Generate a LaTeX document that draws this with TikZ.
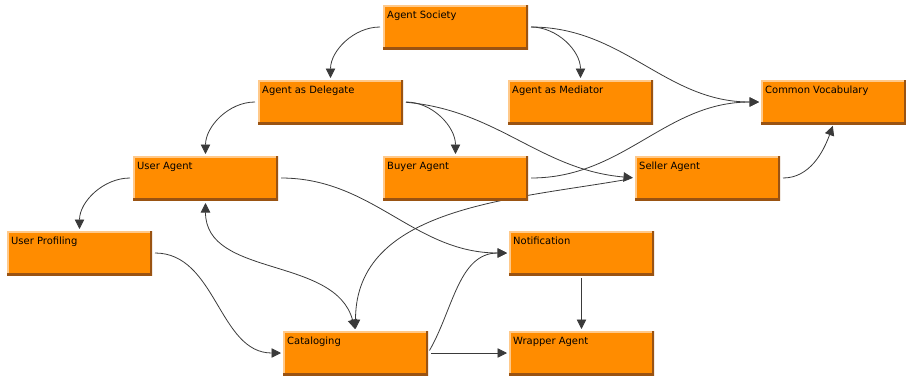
\documentclass[tikz,border=0pt]{standalone}
\usepackage{fontspec}
\setmainfont{DejaVu Sans}
\usetikzlibrary{arrows.meta}
\definecolor{boxfill}{HTML}{FF8C00}
\definecolor{boxlight}{HTML}{FFC98A}
\definecolor{boxdark}{HTML}{9A5312}
\definecolor{wire}{HTML}{3A3A3A}
\pgfdeclarelayer{background}
\pgfsetlayers{background,main}
\tikzset{
  >={Triangle[length=9.5bp,width=9.5bp]},
  agent/.style={rectangle, anchor=north west, minimum width=145bp,
    minimum height=44bp, inner sep=0pt, outer sep=0pt, fill=boxfill,
    path picture={
      \draw[boxlight, line width=3bp]
        (path picture bounding box.south west) --
        (path picture bounding box.north west) --
        (path picture bounding box.north east);
      \draw[boxdark, line width=3.5bp]
        (path picture bounding box.north east) --
        (path picture bounding box.south east) --
        (path picture bounding box.south west);
    },
    label={[title]north west:#1}},
  title/.style={anchor=base west, inner sep=0pt, xshift=4bp, yshift=-13bp,
    font=\fontsize{10}{12}\selectfont, text=black},
  link/.style={draw=wire, line width=0.8bp, ->, shorten >=2bp, shorten <=3bp},
}
\begin{document}
\begin{tikzpicture}[x=1bp, y=-1bp]
\useasboundingbox (0,0) rectangle (906,376);

% agents
\node[agent=Agent Society]     (soc)  at (383,5)   {};
\node[agent=Agent as Delegate] (del)  at (258,80)  {};
\node[agent=Agent as Mediator] (med)  at (508,80)  {};
\node[agent=Common Vocabulary] (voc)  at (761,80)  {};
\node[agent=User Agent]        (usr)  at (133,156) {};
\node[agent=Buyer Agent]       (buy)  at (383,156) {};
\node[agent=Seller Agent]      (sel)  at (635,156) {};
\node[agent=User Profiling]    (prof) at (7,231)   {};
\node[agent=Notification]      (note) at (509,231) {};
\node[agent=Cataloging]        (cat)  at (283,331) {};
\node[agent=Wrapper Agent]     (wrap) at (509,331) {};

% dependencies, drawn beneath the boxes
\begin{pgfonlayer}{background}
\draw[link] (soc.west) to[out=180,in=90] (del.north);
\draw[link] (soc.east) to[out=0,in=90] (med.north);
\draw[link] (soc.east) to[out=0,in=180] (voc.west);
\draw[link] (del.west) to[out=180,in=90] (usr.north);
\draw[link] (del.east) to[out=0,in=90] (buy.north);
\draw[link] (del.east) to[out=-5,in=175] (sel.west);
\draw[link] (buy.east) to[out=0,in=180] (voc.west);
\draw[link, shorten <=8bp] (sel.west) to[out=190,in=90] (cat.north);
\draw[link, <->, shorten <=3bp] (usr.south) to[out=-90,in=105] (cat.north);
\draw[link] (usr.east) to[out=0,in=180] (note.west);
\draw[link] (usr.west) to[out=180,in=90] (prof.north);
\draw[link] (prof.east) to[out=0,in=180] (cat.west);
\draw[link] (cat.east) to[out=60,in=180] (note.west);
\draw[link] (cat.east) -- (wrap.west);
\draw[link] (note.south) -- (wrap.north);
\draw[link] (sel.east) to[out=0,in=-110] (voc.south);
\end{pgfonlayer}
\end{tikzpicture}
\end{document}
